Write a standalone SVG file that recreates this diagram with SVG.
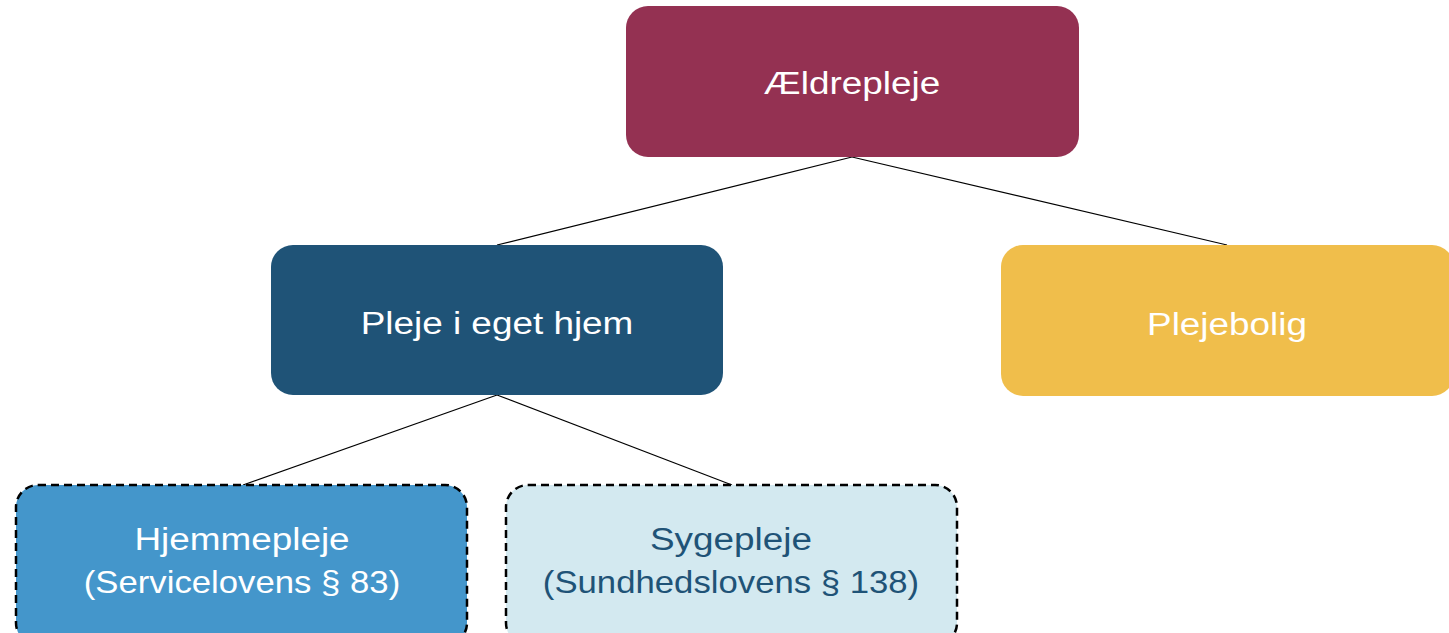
<svg xmlns="http://www.w3.org/2000/svg" width="1449" height="633" viewBox="0 0 1449 633">
<style>
.t{font-family:"Liberation Sans",Arial,sans-serif;font-size:31px;text-anchor:middle;fill:#ffffff}
.dark{fill:#1F5377}
.dash{stroke:#000;stroke-width:2.5;stroke-dasharray:8 5}
.conn{stroke:#000;stroke-width:1.2;fill:none}
</style>
<rect width="1449" height="633" fill="#ffffff"/>
<g id="connectors">
<line class="conn" x1="852" y1="157" x2="497" y2="245"/>
<line class="conn" x1="852" y1="157" x2="1227" y2="245"/>
<line class="conn" x1="497" y1="395" x2="243" y2="485"/>
<line class="conn" x1="497" y1="395" x2="732" y2="485"/>
</g>
<g id="aeldrepleje">
<rect x="626" y="6" width="453" height="151" rx="22" fill="#943152"/>
<text class="t" transform="translate(852,94) scale(1.19,1)">Ældrepleje</text>
</g>
<g id="pleje-i-eget-hjem">
<rect x="271" y="245" width="452" height="150" rx="22" fill="#1F5377"/>
<text class="t" transform="translate(497,334) scale(1.19,1)">Pleje i eget hjem</text>
</g>
<g id="plejebolig">
<rect x="1001" y="245" width="453" height="151" rx="22" fill="#F0BE4B"/>
<text class="t" transform="translate(1227,335) scale(1.19,1)">Plejebolig</text>
</g>
<g id="hjemmepleje">
<rect class="dash" x="16" y="485" width="451" height="160" rx="22" fill="#4496CB"/>
<text class="t" transform="translate(242,550) scale(1.19,1)">Hjemmepleje</text>
<text class="t" transform="translate(242,593) scale(1.12,1)">(Servicelovens § 83)</text>
</g>
<g id="sygepleje">
<rect class="dash" x="506" y="485" width="451" height="160" rx="22" fill="#D3E9F0"/>
<text class="t dark" transform="translate(731,550) scale(1.19,1)">Sygepleje</text>
<text class="t dark" transform="translate(731,593) scale(1.12,1)">(Sundhedslovens § 138)</text>
</g>
</svg>
